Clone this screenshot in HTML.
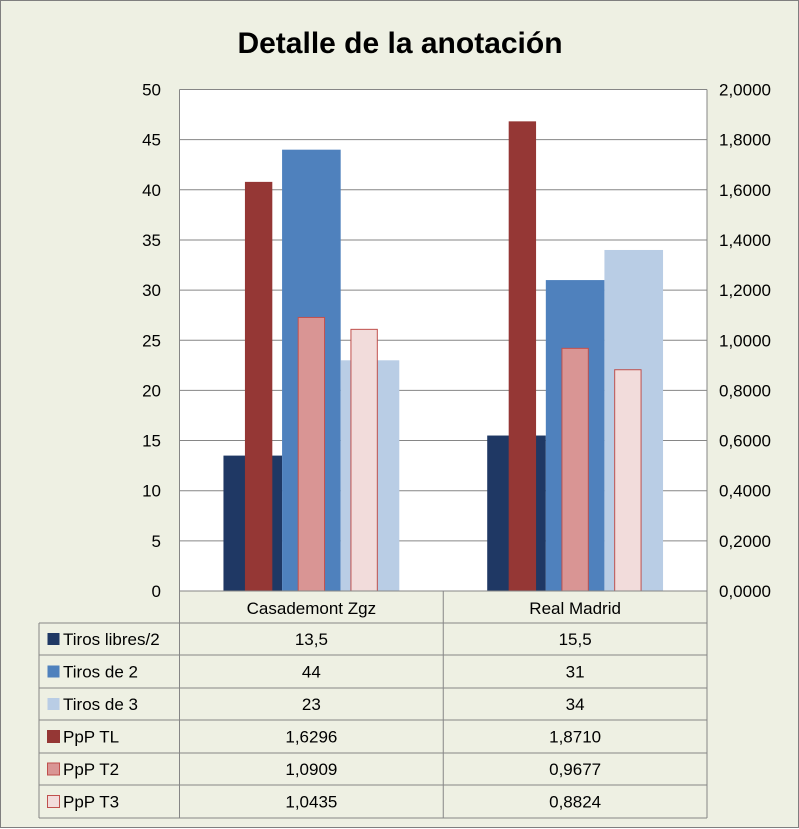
<!DOCTYPE html>
<html><head><meta charset="utf-8"><style>
body{margin:0;background:#fff}
#wrap{position:relative;width:797px;height:826px;background:#eef0e3;border:1px solid #7f7f7f;font-family:"Liberation Sans",sans-serif}
svg{position:absolute;left:0;top:0}
</style></head><body>
<div id="wrap">
<svg id="c" width="799" height="828" xmlns="http://www.w3.org/2000/svg" font-family="Liberation Sans, sans-serif"></svg>
</div>
<script>
const categories=["Casademont Zgz","Real Madrid"];
const primaryNames=["Tiros libres/2","Tiros de 2","Tiros de 3"];
const primaryValues=[[13.5,15.5],[44,31],[23,34]];
const secondaryNames=["PpP TL","PpP T2","PpP T3"];
const secondaryValues=[[1.6296,1.8710],[1.0909,0.9677],[1.0435,0.8824]];
const leftTicks=[0,5,10,15,20,25,30,35,40,45,50];
const rightTicks=["0,0000","0,2000","0,4000","0,6000","0,8000","1,0000","1,2000","1,4000","1,6000","1,8000","2,0000"];
const primaryLabels=[["13,5","15,5"],["44","31"],["23","34"]];
const secondaryLabels=[["1,6296","1,8710"],["1,0909","0,9677"],["1,0435","0,8824"]];

const primColors=["#1f3864","#4f81bd","#b9cde5"];
const secFill=["#953735","#d99594","#f2dcdb"];
const secStroke=["#953735","#c0504d","#c0504d"];
const X0=178.5,X1=706,Y0=590,Y1=88.5;
const yL=v=>Y0-(v/50)*(Y0-Y1);
const yR=v=>Y0-(v/2)*(Y0-Y1);
const catW=(X1-X0)/categories.length;
const svg=document.getElementById('c');
const NS="http://www.w3.org/2000/svg";
function el(t,a,txt){const e=document.createElementNS(NS,t);for(const k in a)e.setAttribute(k,a[k]);if(txt!==undefined)e.textContent=txt;svg.appendChild(e);return e;}

let t=el('text',{x:399,y:52,'text-anchor':'middle','font-size':30,'font-weight':'bold',fill:'#000'},'Detalle de la anotación');


let pa=el('rect',{x:X0,y:Y1,width:X1-X0,height:Y0-Y1,fill:'#fff'});


leftTicks.forEach((v,i)=>{
  if(v>0){let g=el('line',{x1:X0,x2:X1,y1:yL(v),y2:yL(v),stroke:'#868686','stroke-width':1});
  
  }
  let l=el('text',{x:160,y:yL(v)+6,'text-anchor':'end','font-size':17,fill:'#000'},String(v));
  
  
  let r=el('text',{x:718,y:yL(v)+6,'font-size':17,fill:'#000'},rightTicks[i]);
  
  
});
el('line',{x1:X0,x2:X0,y1:Y1,y2:Y0,stroke:'#868686'});
el('line',{x1:X1,x2:X1,y1:Y1,y2:Y0,stroke:'#868686'});
const pw=catW/4.5, sw=pw*0.45;
categories.forEach((c,ci)=>{
  const cx=X0+catW*ci+catW/2;
  primaryValues.forEach((s,si)=>{
    const x=cx-1.5*pw+si*pw;
    let b=el('rect',{x:x,y:yL(s[ci]),width:pw,height:Y0-yL(s[ci]),fill:primColors[si]});
    
    
  });
  secondaryValues.forEach((s,si)=>{
    const sc=cx+(si-1)*pw*0.9;
    let b=el('rect',{x:sc-sw/2,y:yR(s[ci]),width:sw,height:Y0-yR(s[ci]),fill:secFill[si],stroke:secStroke[si],'stroke-width':1});
    
    
  });
});
el('line',{x1:X0,x2:X1,y1:Y0,y2:Y0,stroke:'#868686'});
// table
const rowY=[590,622,654,687,719,752,784,817];
const TL=38;
el('line',{x1:X0,x2:X0,y1:Y0,y2:817,stroke:'#868686'});
el('line',{x1:X0+catW,x2:X0+catW,y1:Y0,y2:817,stroke:'#868686'});
el('line',{x1:X1,x2:X1,y1:Y0,y2:817,stroke:'#868686'});
el('line',{x1:TL,x2:TL,y1:622,y2:817,stroke:'#868686'});
rowY.forEach((y,i)=>{el('line',{x1:i==0?X0:TL,x2:X1,y1:y,y2:y,stroke:'#868686'});});
categories.forEach((c,ci)=>{
  let h=el('text',{x:X0+catW*ci+catW/2,y:613,'text-anchor':'middle','font-size':17},c);
  
  
});
const allNames=primaryNames.concat(secondaryNames);
const allLabels=primaryLabels.concat(secondaryLabels);
allNames.forEach((n,i)=>{
  const y=rowY[i+1], ym=(y+rowY[i+2])/2;
  const isSec=i>=3;
  let k=el('rect',{x:46.5,y:ym-6,width:12,height:12,fill:isSec?secFill[i-3]:primColors[i],stroke:isSec?secStroke[i-3]:'none'});
  
  
  let l=el('text',{x:62,y:ym+6,'font-size':17},n);
  
  
  categories.forEach((c,ci)=>{
    let v=el('text',{x:X0+catW*ci+catW/2,y:ym+6,'text-anchor':'middle','font-size':17},allLabels[i][ci]);
    
    
  });
});
</script>
</body></html>
